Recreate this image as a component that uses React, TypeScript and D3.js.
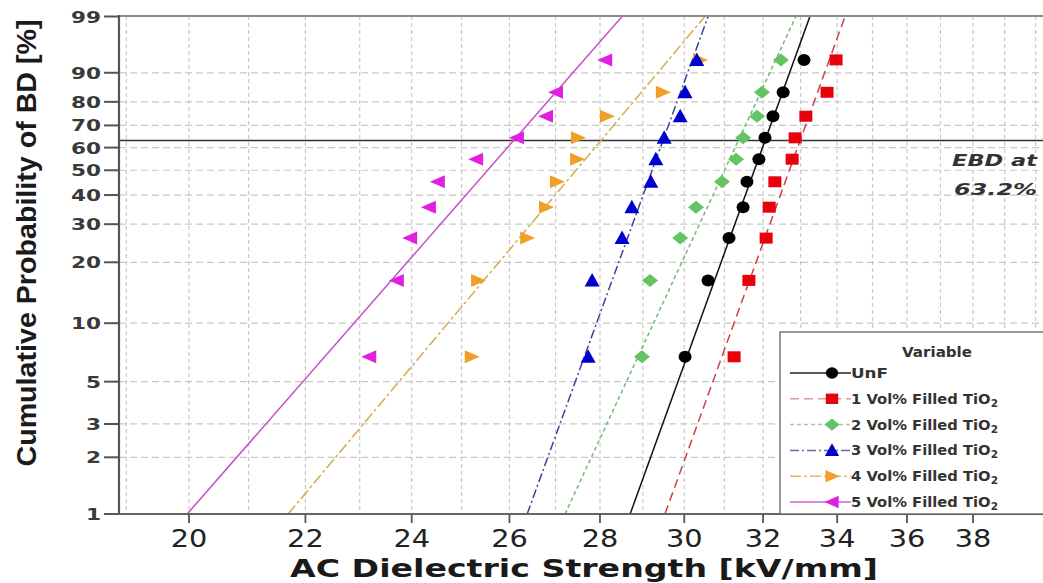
import React, { useEffect } from 'react';
import * as d3 from 'd3';

// ---- data ----
const yTicks = [1, 2, 3, 5, 10, 20, 30, 40, 50, 60, 70, 80, 90, 99];
const xTicks = [20, 22, 24, 26, 28, 30, 32, 34, 36, 38];
const xGrid = [19, 20, 21, 22, 23, 24, 25, 26, 27, 28, 29, 30, 31, 32, 33, 34, 35, 36, 37, 38, 39, 40];
const ranks = [6.73, 16.35, 25.96, 35.58, 45.19, 54.81, 64.42, 74.04, 83.65, 93.27];

const seriesNames = ['UnF', '1 Vol% Filled TiO', '2 Vol% Filled TiO', '3 Vol% Filled TiO', '4 Vol% Filled TiO', '5 Vol% Filled TiO'];
const unf = [30.02, 30.59, 31.12, 31.48, 31.58, 31.89, 32.05, 32.26, 32.53, 33.09];
const vol1 = [31.25, 31.63, 32.08, 32.16, 32.31, 32.77, 32.85, 33.14, 33.72, 33.97];
const vol2 = [28.98, 29.17, 29.9, 30.29, 30.94, 31.3, 31.48, 31.84, 31.97, 32.47];
const vol3 = [27.73, 27.82, 28.51, 28.74, 29.19, 29.31, 29.51, 29.9, 30.02, 30.31];
const vol4 = [25.21, 25.34, 26.38, 26.79, 27.03, 27.48, 27.5, 28.16, 29.48, 30.39];
const vol5 = [23.18, 23.71, 23.97, 24.34, 24.52, 25.3, 26.16, 26.79, 27.01, 28.12];
// fitted Weibull line: strength at 1% and at 99%
const fitLow = [28.7, 29.53, 27.21, 26.38, 21.69, 19.97];
const fitHigh = [33.25, 34.22, 32.87, 30.59, 30.51, 28.51];
const ebdLevel = 63.2;

// ---- styles ----
const lineColors = ['#111111', '#c84444', '#70bb70', '#40409a', '#d6aa4c', '#c452c4'];
const legendLineColors = ['#222222', '#e09a9a', '#9ad29a', '#6a6ab0', '#e0b870', '#cc66cc'];
const dashes = ['none', '9,5', '4,3', '9,3,2,3', '11,3,3,3', 'none'];
const markerColors = ['#000000', '#e8000b', '#62c462', '#0000cc', '#f0a028', '#e020e0'];
const markerKinds = ['circle', 'square', 'diamond', 'up', 'right', 'left'];

const W = 1043;
const H = 583;
const left = 119;
const right = 1043;
const top = 16;
const bottom = 514;

const weib = (p: number) => Math.log(-Math.log(1 - p / 100));

function Marker({ kind, color, x, y, s = 1 }: { kind: string; color: string; x: number; y: number; s?: number }) {
  const t = `translate(${x},${y}) scale(${s})`;
  if (kind === 'circle') return <ellipse cx={x} cy={y} rx={6.5 * s} ry={6 * s} fill={color} />;
  if (kind === 'square') return <path transform={t} d="M-6.5,-5.5H6.5V5.5H-6.5Z" fill={color} />;
  if (kind === 'diamond') return <path transform={t} d="M0,-6.5L8,0L0,6.5L-8,0Z" fill={color} />;
  if (kind === 'up') return <path transform={t} d="M0,-7.5L7.5,6L-7.5,6Z" fill={color} />;
  if (kind === 'right') return <path transform={t} d="M8,0L-7,-6.5L-7,6.5Z" fill={color} />;
  return <path transform={t} d="M-8,0L7,-6.5L7,6.5Z" fill={color} />;
}

export default function App() {
  useEffect(() => {
    document.body.style.margin = '0';
  }, []);

  const x = d3.scaleLog().domain([20, 38]).range([189, 973]);
  const y = d3.scaleLinear().domain([weib(1), weib(99)]).range([bottom, top + 0.5]);
  const py = (p: number) => y(weib(p));

  const allSeries = [unf, vol1, vol2, vol3, vol4, vol5];
  const drawOrder = [5, 4, 3, 2, 0, 1];

  const lineGen = d3
    .line<[number, number]>()
    .x((d) => x(d[0]))
    .y((d) => py(d[1]));

  const font = "'DejaVu Sans', Verdana, sans-serif";
  const ebdY = py(ebdLevel);

  return (
    <svg width={W} height={H} style={{ display: 'block', background: '#fff' }}>
      <defs>
        <clipPath id="plot">
          <rect x={left} y={top} width={right - left} height={bottom - top} />
        </clipPath>
      </defs>
      {/* grid */}
      <g clipPath="url(#plot)">
        {xGrid.map((v) => (
          <line key={'gx' + v} x1={x(v)} x2={x(v)} y1={top} y2={bottom} stroke="#c9c9c9" strokeWidth={1.2} strokeDasharray="4,3" />
        ))}
        {yTicks
          .filter((v) => v > 1 && v < 99)
          .map((v) => (
            <line key={'gy' + v} x1={left} x2={right} y1={py(v)} y2={py(v)} stroke="#c9c9c9" strokeWidth={1.2} strokeDasharray="7,4" />
          ))}
      </g>

      {/* EBD line */}
      <line x1={left} x2={right} y1={ebdY} y2={ebdY} stroke="#333" strokeWidth={1.6} />
      <text x={1037} y={166} textAnchor="end" fontFamily={font} fontWeight="bold" fontStyle="italic" fontSize={16} fill="#333" textLength={85} lengthAdjust="spacingAndGlyphs">
        EBD at
      </text>
      <text x={1037} y={195} textAnchor="end" fontFamily={font} fontWeight="bold" fontStyle="italic" fontSize={16} fill="#333" textLength={83} lengthAdjust="spacingAndGlyphs">
        63.2%
      </text>

      {/* fit lines */}
      <g clipPath="url(#plot)">
        {drawOrder.map((i) => (
          <path
            key={'l' + i}
            d={lineGen([
              [fitLow[i], 1],
              [fitHigh[i], 99],
            ]) as string}
            fill="none"
            stroke={lineColors[i]}
            strokeWidth={1.5}
            strokeDasharray={dashes[i]}
          />
        ))}
      </g>

      {/* points */}
      <g>
        {drawOrder.map((i) =>
          allSeries[i].map((v, j) => (
            <Marker key={'m' + i + '-' + j} kind={markerKinds[i]} color={markerColors[i]} x={x(v)} y={py(ranks[j])} />
          ))
        )}
      </g>

      {/* frame / axes */}
      <line x1={left} x2={right} y1={top} y2={top} stroke="#8a8a8a" strokeWidth={2} />
      <line x1={left} x2={left} y1={top - 1} y2={bottom + 1} stroke="#555" strokeWidth={2.2} />
      <line x1={left} x2={right} y1={bottom} y2={bottom} stroke="#666" strokeWidth={2} />

      {/* y ticks */}
      {yTicks.map((v) => (
        <g key={'yt' + v}>
          <line x1={104} x2={left} y1={py(v)} y2={py(v)} stroke="#555" strokeWidth={2} />
          <text
            transform={`translate(101,${py(v) + 6}) scale(1.35,1)`}
            textAnchor="end"
            fontFamily={font}
            fontWeight="bold"
            fontSize={16}
            fill="#3a3a3a"
          >
            {v}
          </text>
        </g>
      ))}

      {/* x ticks */}
      {xTicks.map((v) => (
        <g key={'xt' + v}>
          <line x1={x(v)} x2={x(v)} y1={bottom} y2={bottom + 9} stroke="#555" strokeWidth={1.8} />
          <text transform={`translate(${x(v)},547) scale(1.2,1)`} textAnchor="middle" fontFamily={font} fontSize={24} fill="#222">
            {v}
          </text>
        </g>
      ))}

      {/* axis titles */}
      <text x={584} y={577} textAnchor="middle" fontFamily={font} fontWeight="bold" fontSize={24} fill="#1a1a1a" textLength={588} lengthAdjust="spacingAndGlyphs">
        AC Dielectric Strength [kV/mm]
      </text>
      <text
        transform="translate(36,243) rotate(-90)"
        textAnchor="middle"
        fontFamily="'Liberation Sans Narrow', 'Liberation Sans', Arial, sans-serif"
        fontWeight="bold"
        fontSize={28}
        fill="#1a1a1a"
        textLength={447}
        lengthAdjust="spacingAndGlyphs"
      >
        Cumulative Probability of BD [%]
      </text>

      {/* legend */}
      <g>
        <rect x={780} y={332} width={270} height={bottom - 332} fill="#fff" stroke="#555" strokeWidth={1.2} />
        <text x={937} y={357} textAnchor="middle" fontFamily={font} fontWeight="bold" fontSize={14} fill="#333" textLength={70} lengthAdjust="spacingAndGlyphs">
          Variable
        </text>
        {seriesNames.map((name, i) => {
          const ly = 373 + i * 25.8;
          return (
            <g key={'lg' + i}>
              <line x1={790} x2={851} y1={ly} y2={ly} stroke={legendLineColors[i]} strokeWidth={1.5} strokeDasharray={dashes[i]} />
              <Marker kind={markerKinds[i]} color={markerColors[i]} x={832} y={ly} s={0.95} />
              <text
                x={851}
                y={ly + 5}
                fontFamily={font}
                fontWeight="bold"
                fontSize={14}
                fill="#333"
                textLength={i === 0 ? 37 : 147}
                lengthAdjust="spacingAndGlyphs"
              >
                {name}
                {i > 0 ? (
                  <tspan fontSize={10} dy={3}>
                    2
                  </tspan>
                ) : null}
              </text>
            </g>
          );
        })}
      </g>
    </svg>
  );
}
